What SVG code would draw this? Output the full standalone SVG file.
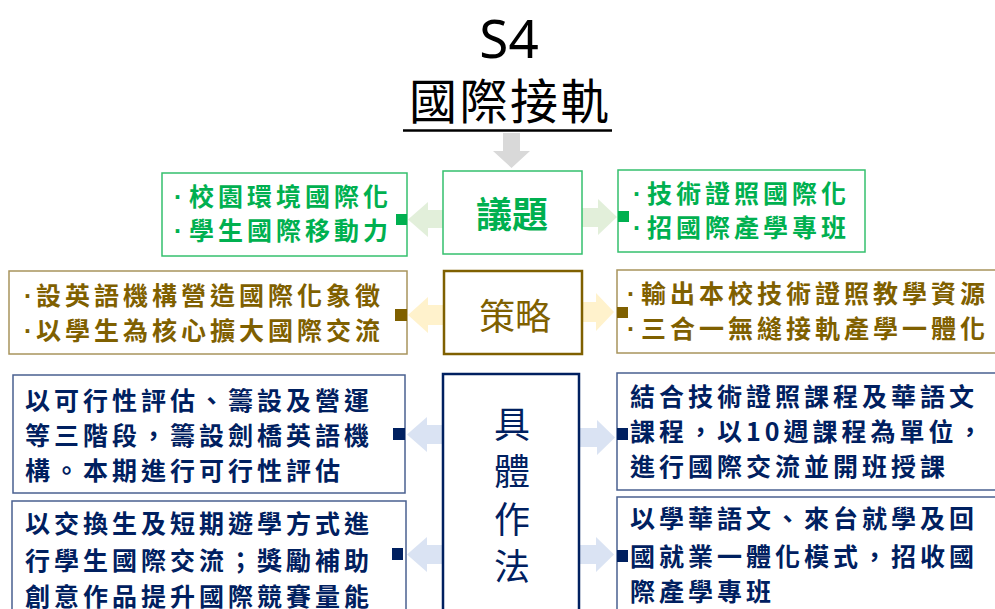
<svg xmlns="http://www.w3.org/2000/svg" width="995" height="609" viewBox="0 0 995 609">
<style>
text{font-family:"Noto Sans CJK TC","Noto Sans CJK SC",sans-serif;}
.t{font-size:25px;font-weight:bold;letter-spacing:4px;}
.d{font-family:"Liberation Sans",sans-serif;letter-spacing:0;}
.g{fill:#00b050;} .b{fill:#7f6000;} .n{fill:#002060;}
.gbox{fill:#fff;stroke:#35c06e;stroke-width:1.5;}
.bbox{fill:#fff;stroke:#a8945c;stroke-width:1.5;}
.nbox{fill:#fff;stroke:#4a6090;stroke-width:1.5;}
.ga{fill:#e2efda;} .ba{fill:#fff2cc;} .na{fill:#dae3f3;}
</style>
<rect width="995" height="609" fill="#fff"/>
<g id="title">
<text x="509" y="58" text-anchor="middle" font-size="53" fill="#000" style="font-family:'Noto Sans','Liberation Sans',sans-serif">S4</text>
<text x="510" y="119" text-anchor="middle" font-size="48" letter-spacing="2.5" fill="#000">國際接軌</text>
<line x1="403" y1="130.5" x2="612" y2="130.5" stroke="#000" stroke-width="2.5"/>
</g>
<g id="connectors">
<polygon fill="#d9d9d9" points="503,133 520,133 520,151 530,151 511.5,168 493,151 503,151"/>
<polygon class="ga" points="408,219.5 428,202 428,210 443,210 443,228 428,228 428,237"/>
<polygon class="ga" points="617,217 598,199 598,208 582,208 582,227 598,227 598,235"/>
<polygon class="ba" points="408,315 428,297 428,305 444,305 444,325 428,325 428,333"/>
<polygon class="ba" points="614,312 596,293 596,302 582,302 582,322 596,322 596,331"/>
<polygon class="na" points="407,434.5 427,417 427,425 443,425 443,444 427,444 427,452"/>
<polygon class="na" points="407,554.5 427,537 427,545 443,545 443,564 427,564 427,572"/>
<polygon class="na" points="615,437.5 597,420 597,428 579,428 579,447 597,447 597,455"/>
<polygon class="na" points="614,554.5 596,537 596,545 579,545 579,564 596,564 596,572"/>
</g>
<g id="issue">
<rect class="gbox" x="443" y="171" width="139" height="83"/>
<text x="512" y="228" text-anchor="middle" font-size="36" font-weight="bold" class="g">議題</text>
</g>
<g id="issue-left">
<rect class="gbox" x="162" y="173" width="245" height="83"/>
<rect x="396" y="214" width="11" height="11" fill="#00b050"/>
<text class="t g" y="206" letter-spacing="4.5" font-size="24"><tspan class="d" x="174">·</tspan><tspan x="189">校園環境國際化</tspan></text>
<text class="t g" y="240" letter-spacing="4.5" font-size="24"><tspan class="d" x="174">·</tspan><tspan x="189">學生國際移動力</tspan></text>
</g>
<g id="issue-right">
<rect class="gbox" x="618" y="170" width="247" height="82"/>
<rect x="618" y="211" width="11" height="11" fill="#00b050"/>
<text class="t g" y="203" letter-spacing="4.5" font-size="24"><tspan class="d" x="633">·</tspan><tspan x="647">技術證照國際化</tspan></text>
<text class="t g" y="237" letter-spacing="4.5" font-size="24"><tspan class="d" x="633">·</tspan><tspan x="647">招國際產學專班</tspan></text>
</g>
<g id="strategy">
<rect x="444" y="271" width="138" height="83" fill="#fff" stroke="#7f6000" stroke-width="2.5"/>
<text x="515" y="330" text-anchor="middle" font-size="36" class="b">策略</text>
</g>
<g id="strategy-left">
<rect class="bbox" x="9" y="271" width="398" height="83"/>
<rect x="395" y="309" width="12" height="12" fill="#7f6000"/>
<text class="t b" y="305"><tspan class="d" x="24">·</tspan><tspan x="36">設英語機構營造國際化象徵</tspan></text>
<text class="t b" y="340"><tspan class="d" x="24">·</tspan><tspan x="36">以學生為核心擴大國際交流</tspan></text>
</g>
<g id="strategy-right">
<rect class="bbox" x="617" y="270" width="390" height="83"/>
<rect x="617" y="307" width="11" height="11" fill="#7f6000"/>
<text class="t b" y="303"><tspan class="d" x="627">·</tspan><tspan x="641">輸出本校技術證照教學資源</tspan></text>
<text class="t b" y="338"><tspan class="d" x="627">·</tspan><tspan x="641">三合一無縫接軌產學一體化</tspan></text>
</g>
<g id="practice">
<rect x="443" y="374" width="136" height="250" fill="#fff" stroke="#002060" stroke-width="2.5"/>
<text x="512" y="438" text-anchor="middle" font-size="36" class="n">具</text>
<text x="512" y="485" text-anchor="middle" font-size="36" class="n">體</text>
<text x="512" y="533" text-anchor="middle" font-size="36" class="n">作</text>
<text x="512" y="580" text-anchor="middle" font-size="36" class="n">法</text>
</g>
<g id="practice-left-1">
<rect class="nbox" x="13" y="375" width="392" height="118"/>
<rect x="393" y="428" width="12" height="12" fill="#002060"/>
<text class="t n" x="25" y="410">以可行性評估、籌設及營運</text>
<text class="t n" x="25" y="445">等三階段，籌設劍橋英語機</text>
<text class="t n" x="25" y="480">構。本期進行可行性評估</text>
</g>
<g id="practice-left-2">
<rect class="nbox" x="12" y="501" width="394" height="130"/>
<rect x="392" y="548" width="11" height="12" fill="#002060"/>
<text class="t n" x="25" y="533">以交換生及短期遊學方式進</text>
<text class="t n" x="25" y="570">行學生國際交流；獎勵補助</text>
<text class="t n" x="25" y="606">創意作品提升國際競賽量能</text>
</g>
<g id="practice-right-1">
<rect class="nbox" x="617" y="373" width="390" height="117"/>
<rect x="617" y="428" width="11" height="12" fill="#002060"/>
<text class="t n" x="630" y="406">結合技術證照課程及華語文</text>
<text class="t n" x="630" y="441">課程，以10週課程為單位，</text>
<text class="t n" x="630" y="476">進行國際交流並開班授課</text>
</g>
<g id="practice-right-2">
<rect class="nbox" x="617" y="497" width="390" height="130"/>
<rect x="617" y="550" width="11" height="12" fill="#002060"/>
<text class="t n" x="630" y="528">以學華語文、來台就學及回</text>
<text class="t n" x="630" y="566">國就業一體化模式，招收國</text>
<text class="t n" x="630" y="601">際產學專班</text>
</g>
</svg>
